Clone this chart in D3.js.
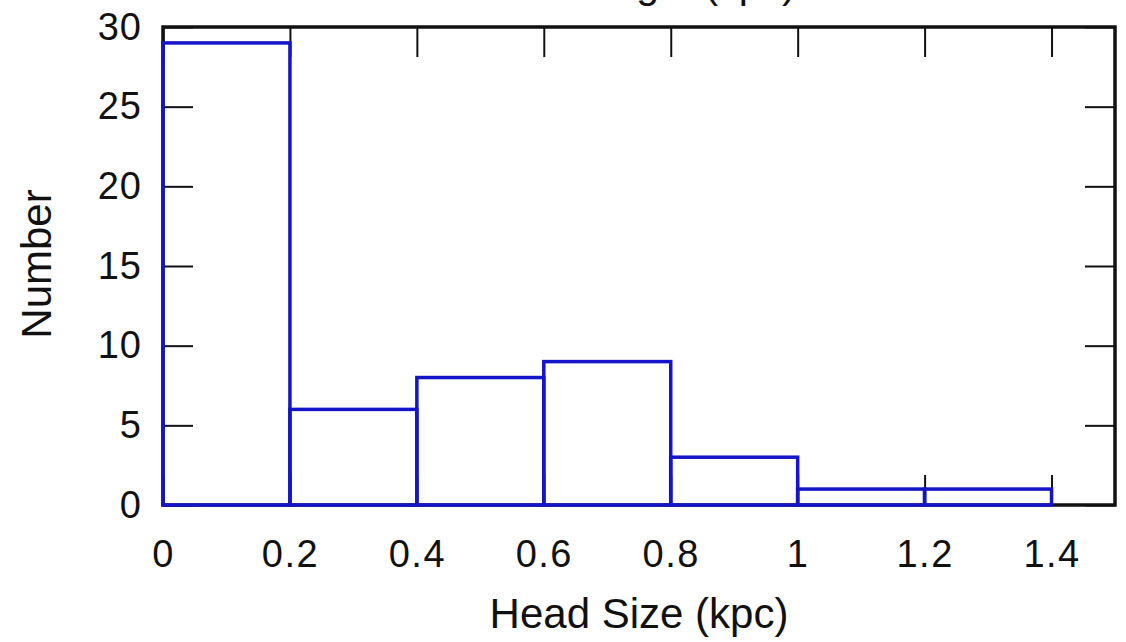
<!DOCTYPE html>
<meta charset="utf-8">
<style>
    body{ margin:0; background:#fff; }
    text{ font-family: "Liberation Sans", Arial, sans-serif; fill:#111; }
    .tick line{ stroke:#111; stroke-width:2; }
</style>
<script src="https://d3js.org/d3.v7.min.js"></script>

<div id="chart"></div>

<script>
    // histogram bins (kpc) and counts
    var binStarts = [0, 0.2, 0.4, 0.6, 0.8, 1.0, 1.2];
    var binWidth = 0.2;
    var counts = [29, 6, 8, 9, 3, 1, 1];
    var xTicks = [0, 0.2, 0.4, 0.6, 0.8, 1, 1.2, 1.4];
    var yTicks = [0, 5, 10, 15, 20, 25, 30];

    var W = 1126, H = 642;
    var plotLeft = 163, plotRight = 1115, plotTop = 27, plotBottom = 505;

    var svg = d3.select("#chart")
      .append("svg")
        .attr("width", W)
        .attr("height", H);

    var x = d3.scaleLinear().domain([0, 1.5]).range([plotLeft, plotRight]);
    var y = d3.scaleLinear().domain([0, 30]).range([plotBottom, plotTop]);

    // title, only its bottom edge shows in the picture
    svg.append("text")
        .attr("x", 627).attr("y", -2)
        .attr("text-anchor", "middle")
        .style("font-size", "41px")
        .text("Head Length (kpc)");

    // axes with inward ticks
    svg.append("g")
        .attr("transform", `translate(0,${plotBottom})`)
        .call(d3.axisBottom(x).tickValues(xTicks).tickSize(-30).tickPadding(35).tickFormat(d => String(d)))
        .call(g => g.select(".domain").remove())
        .call(g => g.selectAll("text").style("font-size", "38px").style("letter-spacing", "1.5px").attr("font-family", null));

    svg.append("g")
        .attr("transform", `translate(0,${plotTop})`)
        .call(d3.axisTop(x).tickValues(xTicks).tickSize(-30).tickFormat(""))
        .call(g => g.select(".domain").remove());

    svg.append("g")
        .attr("transform", `translate(${plotLeft},0)`)
        .call(d3.axisLeft(y).tickValues(yTicks).tickSize(-30).tickPadding(21))
        .call(g => g.select(".domain").remove())
        .call(g => g.selectAll("text").style("font-size", "38px").style("letter-spacing", "1px").attr("font-family", null));

    svg.append("g")
        .attr("transform", `translate(${plotRight},0)`)
        .call(d3.axisRight(y).tickValues(yTicks).tickSize(-30).tickFormat(""))
        .call(g => g.select(".domain").remove());

    // frame
    svg.append("rect")
        .attr("x", plotLeft).attr("y", plotTop)
        .attr("width", plotRight - plotLeft).attr("height", plotBottom - plotTop)
        .attr("fill", "none")
        .attr("stroke", "#111")
        .attr("stroke-width", 3.5);

    // bars
    svg.append("g")
        .selectAll("rect")
        .data(counts)
        .join("rect")
        .attr("x", (d, i) => x(binStarts[i]))
        .attr("width", (d, i) => x(binStarts[i] + binWidth) - x(binStarts[i]))
        .attr("y", d => y(d))
        .attr("height", d => y(0) - y(d))
        .attr("fill", "none")
        .attr("stroke", "#1414c8")
        .attr("stroke-width", 3.5);

    // axis labels
    svg.append("text")
        .attr("x", 639).attr("y", 628)
        .attr("text-anchor", "middle")
        .style("font-size", "42px")
        .text("Head Size (kpc)");

    svg.append("text")
        .attr("transform", "translate(51,264) rotate(-90)")
        .attr("text-anchor", "middle")
        .style("font-size", "42px")
        .text("Number");
</script>
